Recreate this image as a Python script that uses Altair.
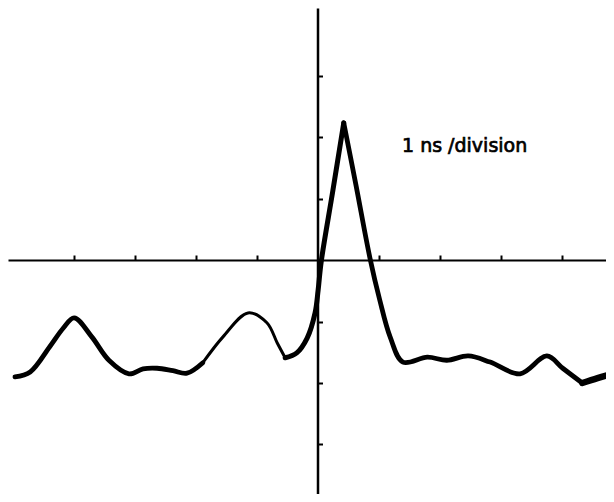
import altair as alt
import pandas as pd

# waveform (x in ns divisions, y in vertical divisions)
t_div = [-4.96, -4.71, -4.39, -4.17, -3.99, -3.70, -3.42, -3.09, -2.86, -2.63,
         -2.37, -2.14, -1.88, -1.55, -1.14, -0.83, -0.66, -0.53, -0.34, -0.17,
         -0.04, 0.01, 0.06, 0.25, 0.43, 0.63, 0.86, 1.02, 1.19, 1.40,
         1.80, 2.12, 2.47, 2.83, 3.32, 3.76, 4.02, 4.34, 4.59, 4.86]
v_div = [-1.90, -1.82, -1.41, -1.11, -0.94, -1.25, -1.63, -1.85, -1.77, -1.76,
         -1.80, -1.84, -1.67, -1.25, -0.86, -1.02, -1.35, -1.59, -1.51, -1.27,
         -0.86, -0.49, -0.03, 1.12, 2.23, 1.22, 0.03, -0.65, -1.25, -1.66,
         -1.58, -1.63, -1.56, -1.66, -1.85, -1.56, -1.76, -2.00, -1.92, -1.84]

x_ticks = [-4, -3, -2, -1, 1, 2, 3, 4]
y_ticks = [-3, -2, -1, 1, 2, 3]

label_text = ["1 ns /division"]
label_x = [1.385]
label_y = [1.756]

df = pd.DataFrame({"t": t_div, "v": v_div})
lab = pd.DataFrame({"t": label_x, "v": label_y, "txt": label_text})

W, H = 598, 486
X_DOM = [-5.074, 4.729]
Y_DOM = [-3.805, 4.098]

xs = alt.Scale(domain=X_DOM, nice=False, zero=False)
ys = alt.Scale(domain=Y_DOM, nice=False, zero=False)

x_axis = alt.Axis(orient="top", offset=-252, values=x_ticks, labels=False,
                  title=None, grid=False, domainColor="black", domainWidth=2,
                  tickColor="black", tickWidth=2, tickSize=5)
y_axis = alt.Axis(orient="right", offset=-288.5, values=y_ticks, labels=False,
                  title=None, grid=False, domainColor="black", domainWidth=2.5,
                  tickColor="black", tickWidth=2, tickSize=5)

base = alt.Chart(df)

def seg(lo, hi, w):
    return base.transform_filter(
        (alt.datum.t >= lo) & (alt.datum.t <= hi)
    ).mark_line(interpolate="catmull-rom", color="black", strokeWidth=w,
                strokeCap="round", strokeJoin="round", clip=True).encode(
        x=alt.X("t:Q", scale=xs, axis=x_axis),
        y=alt.Y("v:Q", scale=ys, axis=y_axis),
    )

lineA = seg(-5.0, -1.88, 4.8)
lineB = seg(-1.88, -0.53, 3.0)
lineC = seg(-0.53, 0.5, 5.0)
lineD = seg(0.43, 4.34, 4.8)
lineE = seg(4.34, 5.0, 6.5)

text = alt.Chart(lab).mark_text(
    align="left", baseline="alphabetic", font="DejaVu Sans", fontSize=19,
    color="black", stroke="black", strokeWidth=0.7
).encode(
    x=alt.X("t:Q", scale=xs),
    y=alt.Y("v:Q", scale=ys),
    text="txt:N",
)

chart = alt.layer(lineA, lineB, lineC, lineD, lineE, text).properties(
    width=W, height=H, padding=0, autosize=alt.AutoSizeParams(type="none"),
    background="white",
).configure_view(stroke=None)

chart.save("out.html", embed_options={"renderer": "svg", "actions": False})
